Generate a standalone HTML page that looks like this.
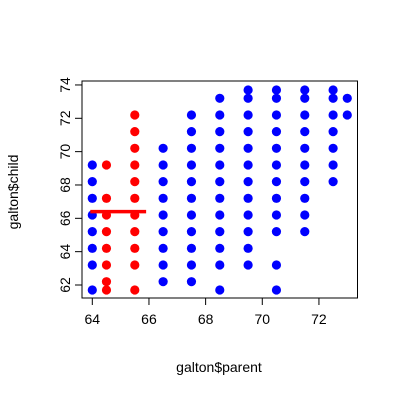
<!DOCTYPE html>
<html><head><style>body{margin:0;background:#fff}svg{display:block;font-family:"Liberation Sans",sans-serif}</style></head>
<body>
<svg id="c" width="400" height="400"></svg>
<script>
const parents=[64,64.5,65.5,66.5,67.5,68.5,69.5,70.5,71.5,72.5,73];
const childLists=[
[69.2,68.2,67.2,66.2,65.2,64.2,63.2,61.7],
[69.2,67.2,66.2,65.2,64.2,63.2,62.2,61.7],
[72.2,71.2,70.2,69.2,68.2,67.2,66.2,65.2,64.2,63.2,61.7],
[70.2,69.2,68.2,67.2,66.2,65.2,64.2,63.2,62.2],
[72.2,71.2,70.2,69.2,68.2,67.2,66.2,65.2,64.2,63.2,62.2],
[73.2,72.2,71.2,70.2,69.2,68.2,67.2,66.2,65.2,64.2,63.2,61.7],
[73.7,73.2,72.2,71.2,70.2,69.2,68.2,67.2,66.2,65.2,64.2,63.2],
[73.7,73.2,72.2,71.2,70.2,69.2,68.2,67.2,66.2,65.2,63.2,61.7],
[73.7,73.2,72.2,71.2,70.2,69.2,68.2,67.2,66.2,65.2],
[73.7,73.2,72.2,71.2,70.2,69.2,68.2],
[73.2,72.2]];
const redParents=[64.5,65.5];
const meanLine=[64,65.9,66.4];
const xTicks=[64,66,68,70,72];
const yTicks=[62,64,66,68,70,72,74];
const X=v=>92.3+28.33*(v-64);
const Y=v=>290-16.67*(v-61.7);
const s=document.getElementById('c');const NS='http://www.w3.org/2000/svg';
function mk(t,a,txt){const e=document.createElementNS(NS,t);for(const k in a)e.setAttribute(k,a[k]);if(txt!==undefined)e.textContent=txt;s.appendChild(e);return e;}
let e=mk('rect',{x:82,y:81,width:275.5,height:217,fill:'none',stroke:'#000'});


parents.forEach((p,i)=>childLists[i].forEach(c=>{
 const d=mk('circle',{cx:X(p),cy:Y(c),r:4.6,fill:redParents.includes(p)?'#f00':'#00f'});
 
 
}));
e=mk('line',{x1:X(meanLine[0])-2,x2:X(meanLine[1]),y1:Y(meanLine[2]),y2:Y(meanLine[2]),stroke:'#f00','stroke-width':3.5});


mk('line',{x1:X(64),x2:X(72),y1:298,y2:298,stroke:'#000'});
xTicks.forEach(t=>{mk('line',{x1:X(t),x2:X(t),y1:298,y2:305,stroke:'#000'});
 const l=mk('text',{x:X(t),y:324,'text-anchor':'middle','font-size':14},t);
 
 });
mk('line',{x1:82,x2:82,y1:Y(62),y2:Y(74),stroke:'#000'});
yTicks.forEach(t=>{mk('line',{x1:75,x2:82,y1:Y(t),y2:Y(t),stroke:'#000'});
 const l=mk('text',{x:0,y:0,'text-anchor':'middle','font-size':14,transform:`translate(70,${Y(t)}) rotate(-90)`},t);
 
 });
e=mk('text',{x:219,y:372,'text-anchor':'middle','font-size':14},'galton$parent');


e=mk('text',{x:0,y:0,'text-anchor':'middle','font-size':14,transform:'translate(18,192) rotate(-90)'},'galton$child');


</script>
</body></html>
